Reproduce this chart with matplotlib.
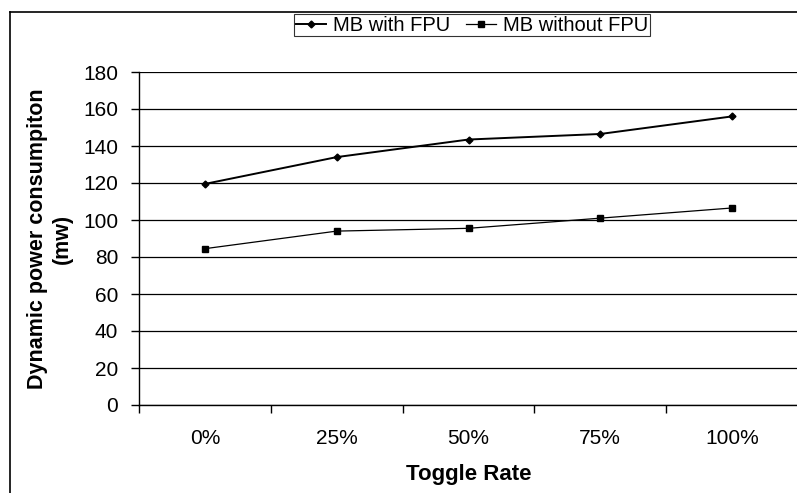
import matplotlib.pyplot as plt
from matplotlib.lines import Line2D

plt.rcParams['font.family'] = ['Liberation Sans', 'DejaVu Sans']

# Dynamic power vs toggle rate
toggle_rates = ["0%", "25%", "50%", "75%", "100%"]
mb_with_fpu = [119.5, 134, 143.5, 146.5, 156]
mb_without_fpu = [84.5, 94, 95.5, 101, 106.5]
y_ticks = [0, 20, 40, 60, 80, 100, 120, 140, 160, 180]

fig = plt.figure(figsize=(7.97, 4.93), dpi=100)
ax = fig.add_axes([139 / 797, 88 / 493, 659 / 797, 333 / 493])

x = range(len(toggle_rates))
ax.plot(x, mb_with_fpu, color="black", lw=1.4, marker="D", ms=3.5, label="MB with FPU")
ax.plot(x, mb_without_fpu, color="black", lw=0.9, marker="s", ms=4, label="MB without FPU")

ax.set_xlim(-0.5, len(toggle_rates) - 0.5)
ax.set_ylim(0, 180)
ax.set_yticks(y_ticks)
ax.yaxis.grid(True, color="black", lw=0.9)
ax.set_axisbelow(True)

# category labels sit between the tick marks
ax.set_xticks([i - 0.5 for i in range(len(toggle_rates))])
ax.set_xticklabels([])
ax.set_xticks(list(x), minor=True)
ax.set_xticklabels(toggle_rates, minor=True)
ax.tick_params(axis="x", which="minor", length=0, pad=17, labelsize=15)
ax.tick_params(axis="x", which="major", direction="out", length=6, width=1)
ax.tick_params(axis="y", direction="out", length=6, width=1, labelsize=15, pad=9)

for side in ["top", "right"]:
    ax.spines[side].set_visible(False)
ax.spines["left"].set_linewidth(1)
ax.spines["bottom"].set_linewidth(1)

ax.set_xlabel("Toggle Rate", fontsize=16, fontweight="bold", labelpad=12)
ax.set_ylabel("Dynamic power consumpiton\n(mw)", fontsize=15.5, fontweight="bold",
              labelpad=7, linespacing=1.3)

leg = fig.legend(loc="upper center", bbox_to_anchor=(472 / 797, 1 - 14 / 493), ncol=2,
                 fontsize=14.5, frameon=True, fancybox=False, edgecolor="black",
                 handlelength=1.5, handletextpad=0.35, columnspacing=0.8,
                 borderpad=0.08, borderaxespad=0)
leg.get_frame().set_linewidth(0.8)

# outer chart border
fig.add_artist(Line2D([10 / 797, 10 / 797], [0, 1 - 12 / 493], color="black", lw=1.2,
                      transform=fig.transFigure))
fig.add_artist(Line2D([10 / 797, 1], [1 - 12 / 493, 1 - 12 / 493], color="black", lw=1.2,
                      transform=fig.transFigure))

fig.savefig("out.png", dpi=100)
